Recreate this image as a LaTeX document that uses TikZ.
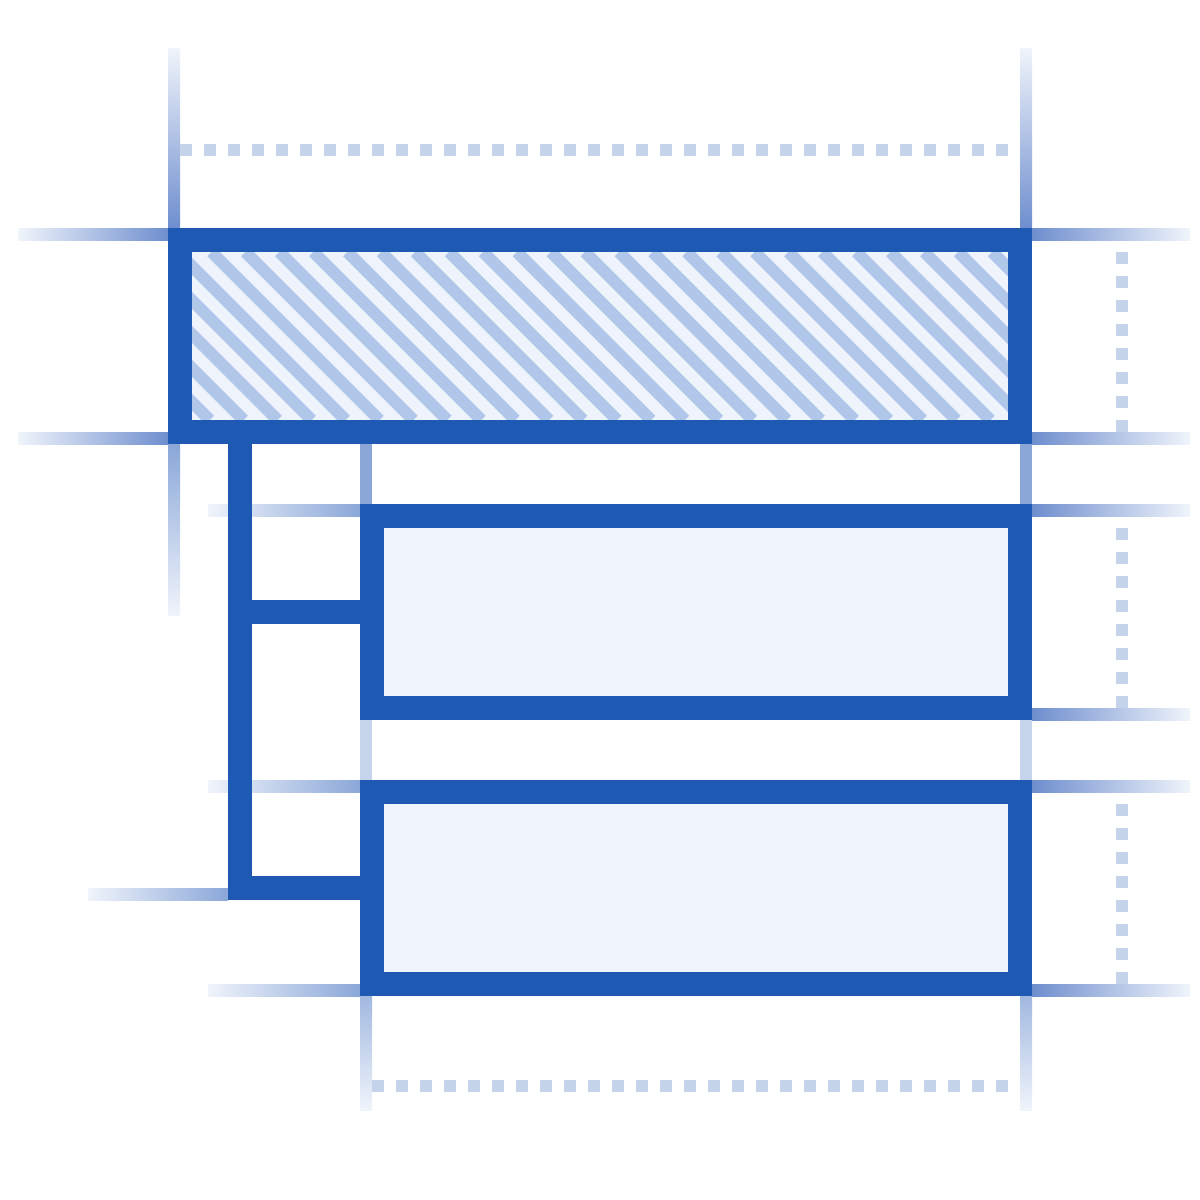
\documentclass[tikz,border=0pt]{standalone}
\usetikzlibrary{arrows}

\definecolor{hauptblau}{HTML}{1E5AB4}
\definecolor{kastengrund}{HTML}{EFF4FD}
\definecolor{streifen}{HTML}{B0C7EA}
\definecolor{streifengrund}{HTML}{EEF3FC}
\definecolor{punkt}{HTML}{C4D3EA}
\definecolor{hilfdunkel}{HTML}{6E8ECE}
\definecolor{hilfmittel}{HTML}{8AA7D8}
\definecolor{hilfhell}{HTML}{C6D5EC}
\definecolor{hilfende}{HTML}{F0F4FB}

\begin{document}
\begin{tikzpicture}[x=0.01cm,y=-0.01cm,
		rahmen/.style={draw=hauptblau,line width=0.24cm},
		verbinder/.style={draw=hauptblau,line width=0.24cm,miter limit=10},
		punktlinie/.style={draw=punkt,line width=0.12cm,dash pattern=on 0.12cm off 0.12cm}]
		\useasboundingbox (0,0) rectangle (1200,1200);
		%Hilfslinien waagrecht
		\foreach \y in {234,438}
			\shade[left color=hilfende,right color=hilfdunkel] (18,\y-6) rectangle (168,\y+6);
		\foreach \y in {234,438,510,714,786,990}
			\shade[left color=hilfdunkel,right color=hilfende] (1032,\y-6) rectangle (1190,\y+6);
		\foreach \y in {510,786,990}
			\shade[left color=hilfende,right color=hilfmittel] (208,\y-6) rectangle (360,\y+6);
		\shade[left color=hilfende,right color=hilfmittel] (88,888) rectangle (228,900);
		%Hilfslinien senkrecht
		\foreach \x in {174,1026}
			\shade[top color=hilfende,bottom color=hilfdunkel] (\x-6,48) rectangle (\x+6,228);
		\shade[top color=hilfmittel,bottom color=hilfende] (168,444) rectangle (180,615);
		\foreach \x in {366,1026}
		{
			\fill[hilfmittel] (\x-6,444) rectangle (\x+6,504);
			\fill[hilfhell] (\x-6,720) rectangle (\x+6,780);
			\shade[top color=hilfmittel!80!white,bottom color=hilfende] (\x-6,996) rectangle (\x+6,1110);
		}
		%Punktlinien
		\draw[punktlinie] (180,150) -- (1008,150);
		\draw[punktlinie] (372,1086) -- (1008,1086);
		\foreach \a/\b in {252/432,528/708,804/984}
			\draw[punktlinie] (1122,\a) -- (1122,\b);
		%schraffierter Kasten
		\begin{scope}
			\clip (192,252) rectangle (1008,420);
			\fill[streifengrund] (192,252) rectangle (1008,420);
			\foreach \k in {-6,...,25}
				\draw[streifen,line width=0.12cm] ({211.5+33.94*\k},252) -- ({379.5+33.94*\k},420);
		\end{scope}
		\draw[rahmen] (180,240) rectangle (1020,432);
		%Verbindungen
		\draw[verbinder] (240,432) -- (240,888) -- (372,888);
		\draw[verbinder] (240,612) -- (372,612);
		%untere Kaesten
		\foreach \o/\u in {516/708,792/984}
			\draw[rahmen,fill=kastengrund] (372,\o) rectangle (1020,\u);
	\end{tikzpicture}
\end{document}
